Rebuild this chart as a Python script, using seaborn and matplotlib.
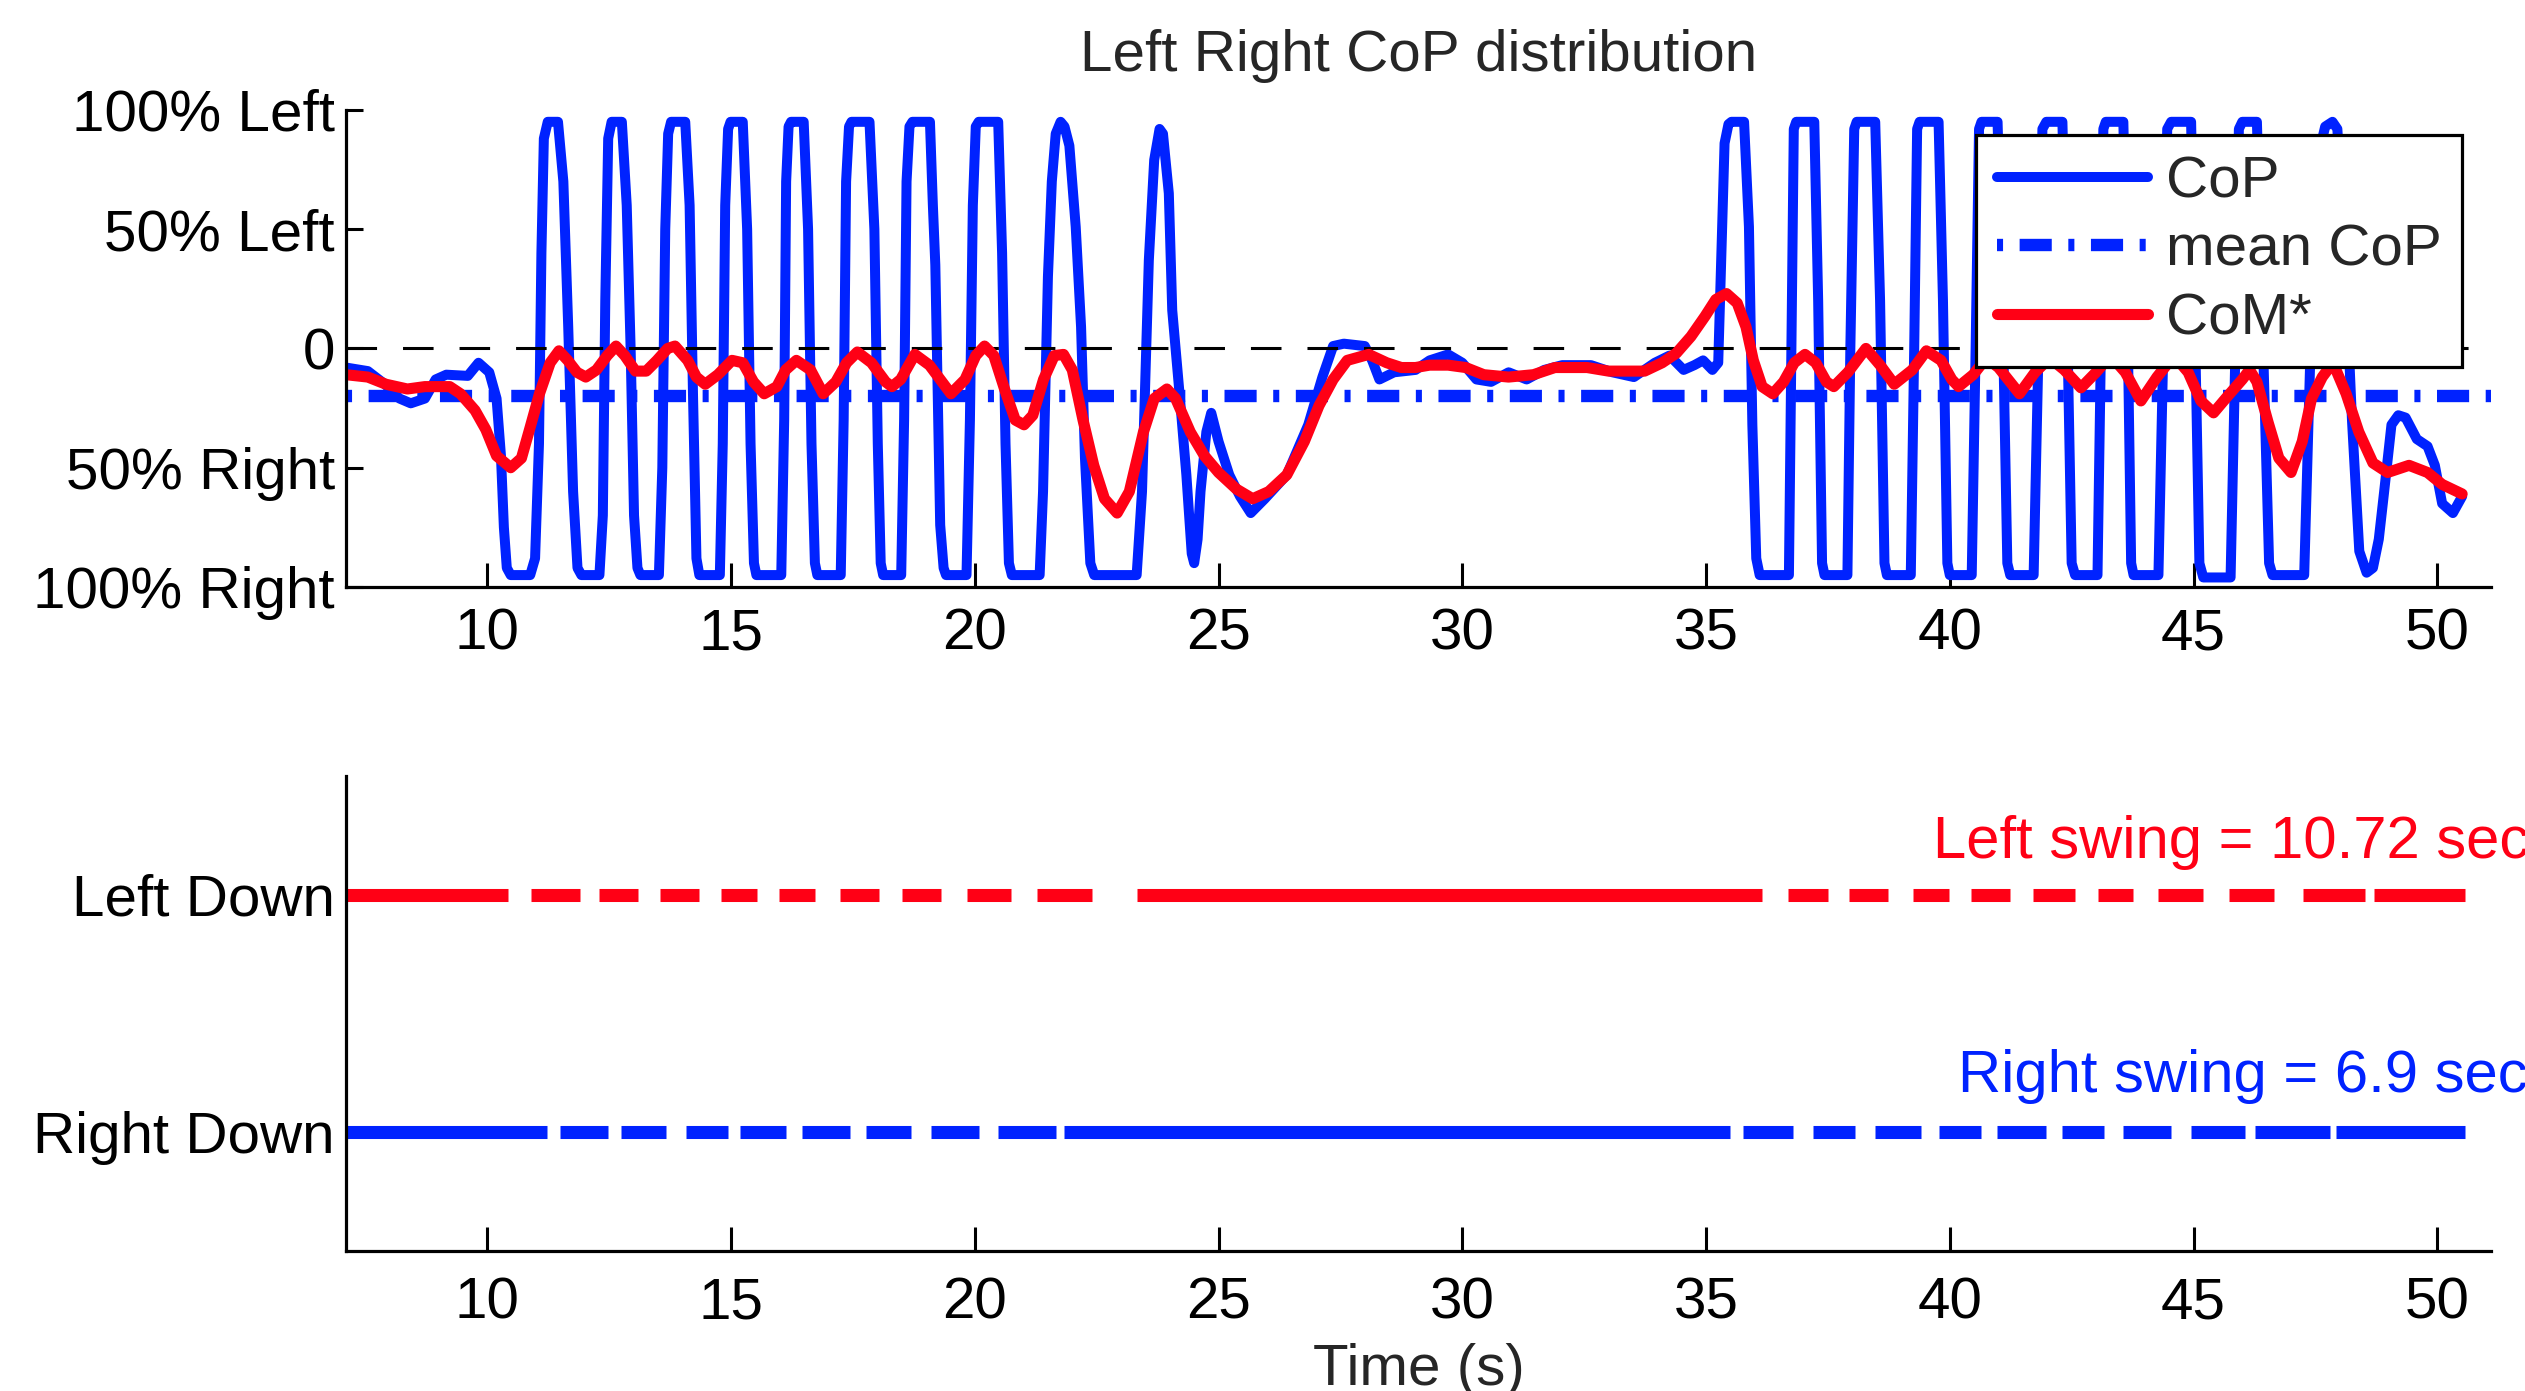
import pandas as pd
import seaborn as sns
import matplotlib.pyplot as plt

# CoP trace (time in s, % of weight: + left / - right)
cop_t = [7.10, 7.55, 7.90, 8.20, 8.43, 8.72, 8.94, 9.16, 9.60, 9.82, 10.04, 10.19, 10.28, 10.34, 10.40, 10.48,
         10.88, 10.98, 11.06, 11.11, 11.16, 11.24, 11.45, 11.56, 11.66, 11.76, 11.85, 11.93,
         12.30, 12.37, 12.42, 12.48, 12.55, 12.76, 12.86, 12.94, 13.01, 13.08, 13.14,
         13.52, 13.59, 13.65, 13.71, 13.77, 14.06, 14.15, 14.22, 14.29, 14.35,
         14.77, 14.83, 14.88, 14.94, 14.99, 15.24, 15.33, 15.40, 15.47, 15.52,
         16.03, 16.09, 16.13, 16.18, 16.23, 16.49, 16.58, 16.65, 16.72, 16.77,
         17.25, 17.31, 17.36, 17.42, 17.47, 17.84, 17.94, 18.01, 18.07, 18.12,
         18.49, 18.55, 18.60, 18.66, 18.72, 19.08, 19.14, 19.19, 19.29, 19.36, 19.41,
         19.83, 19.90, 19.96, 20.02, 20.08, 20.48, 20.56, 20.63, 20.70, 20.76,
         21.33, 21.40, 21.50, 21.58, 21.66, 21.76, 21.84, 21.94, 22.07, 22.18, 22.26, 22.37, 22.45,
         23.32, 23.43, 23.57, 23.68, 23.79, 23.86, 23.98, 24.05, 24.20, 24.34, 24.45, 24.50, 24.57,
         24.63, 24.75, 24.85, 25.00, 25.22, 25.44, 25.66, 25.95, 26.40, 26.84, 27.13, 27.35, 27.57,
         28.00, 28.15, 28.30, 28.60, 29.04, 29.33, 29.71, 30.00, 30.29, 30.59, 30.95, 31.32, 31.68,
         32.05, 32.64, 33.08, 33.52, 33.95, 34.25, 34.54, 34.76, 34.94, 35.13, 35.25,
         35.31, 35.38, 35.46, 35.52, 35.78, 35.88, 35.95, 36.03, 36.10,
         36.70, 36.75, 36.80, 36.85, 37.22, 37.30, 37.38, 37.43,
         37.90, 37.96, 38.04, 38.09, 38.47, 38.57, 38.66, 38.71,
         39.20, 39.27, 39.33, 39.38, 39.77, 39.86, 39.95, 40.00,
         40.45, 40.53, 40.60, 40.65, 40.98, 41.08, 41.18, 41.24,
         41.72, 41.82, 41.90, 41.98, 42.31, 42.40, 42.50, 42.57,
         43.03, 43.10, 43.15, 43.20, 43.56, 43.64, 43.72, 43.77,
         44.28, 44.38, 44.46, 44.54, 44.95, 45.02, 45.12, 45.20,
         45.76, 45.86, 45.93, 46.00, 46.30, 46.40, 46.55, 46.62,
         47.27, 47.40, 47.55, 47.70, 47.85, 47.95, 48.10, 48.25, 48.40, 48.55, 48.68,
         48.80, 48.91, 49.06, 49.20, 49.35, 49.58, 49.80, 49.95, 50.10, 50.32, 50.51]
cop_v = [-8, -9.5, -15, -21, -23, -21, -13, -11, -11.5, -6, -10, -21, -45, -75, -92, -95,
         -95, -88, -40, 40, 88, 95, 95, 70, 9, -60, -92, -95,
         -95, -70, 20, 88, 95, 95, 60, 0, -70, -92, -95,
         -95, -50, 50, 90, 95, 95, 60, -20, -88, -95,
         -95, -40, 60, 92, 95, 95, 50, -40, -90, -95,
         -95, -30, 70, 93, 95, 95, 50, -40, -90, -95,
         -95, -30, 70, 93, 95, 95, 50, -40, -90, -95,
         -95, -30, 70, 93, 95, 95, 60, 35, -74, -92, -95,
         -95, -30, 60, 93, 95, 95, 40, -40, -90, -95,
         -95, -60, 30, 70, 90, 95, 93, 85, 51, 9, -46, -90, -95,
         -95, -60, 37, 79, 92, 90, 65, 16, -19, -53, -86, -90, -80,
         -60, -35, -27, -39, -53, -62, -69, -63, -53, -32, -12, 1, 2,
         1, -5, -13, -10, -9, -5, -2.5, -6, -13, -14, -10, -13, -9,
         -7, -7, -10, -12, -6, -3, -9, -7, -5, -9, -6,
         37, 86, 94, 95, 95, 51, -32, -88, -95,
         -95, 0, 92, 95, 95, 20, -90, -95,
         -95, 0, 92, 95, 95, 20, -90, -95,
         -95, 0, 92, 95, 95, 20, -90, -95,
         -95, 0, 92, 95, 95, 20, -90, -95,
         -95, 0, 92, 95, 95, 20, -90, -95,
         -95, 0, 92, 95, 95, 20, -90, -95,
         -95, 0, 92, 95, 95, 20, -90, -96,
         -96, 0, 92, 95, 95, 20, -90, -95,
         -95, 0, 80, 93, 95, 92, 40, -30, -85, -94, -92,
         -80, -60, -32, -28, -29, -38, -41, -49, -65, -69, -62]

# CoM* trace
com_t = [7.10, 7.55, 7.92, 8.36, 8.72, 9.23, 9.45, 9.75, 9.97, 10.19, 10.48, 10.70, 10.88, 11.07, 11.29,
         11.47, 11.65, 11.84, 12.02, 12.24, 12.46, 12.64, 12.82, 13.04, 13.26, 13.48, 13.70, 13.85,
         14.11, 14.29, 14.47, 14.73, 15.02, 15.24, 15.46, 15.68, 15.94, 16.12, 16.34, 16.63, 16.89,
         17.15, 17.37, 17.59, 17.88, 18.17, 18.30, 18.48, 18.77, 19.07, 19.51, 19.80, 20.02, 20.20,
         20.39, 20.61, 20.83, 21.01, 21.19, 21.41, 21.63, 21.82, 22.00, 22.22, 22.44, 22.66, 22.92,
         23.17, 23.46, 23.68, 23.94, 24.12, 24.42, 24.71, 25.00, 25.37, 25.70, 26.03, 26.40, 26.76,
         27.06, 27.35, 27.64, 28.08, 28.45, 28.75, 29.04, 29.33, 29.71, 30.07, 30.44, 30.95, 31.46,
         31.90, 32.56, 33.00, 33.74, 34.10, 34.39, 34.69, 34.98, 35.20, 35.42, 35.64, 35.82, 35.97,
         36.15, 36.37, 36.59, 36.81, 37.03, 37.25, 37.47, 37.62, 37.91, 38.28, 38.57, 38.86, 39.23,
         39.52, 39.82, 40.04, 40.18, 40.48, 40.75, 41.00, 41.43, 41.75, 42.05, 42.35, 42.69, 43.00,
         43.30, 43.60, 43.92, 44.25, 44.60, 44.89, 45.15, 45.41, 45.70, 46.00, 46.15, 46.30, 46.53,
         46.75, 47.00, 47.23, 47.42, 47.64, 47.86, 48.13, 48.39, 48.68, 48.98, 49.42, 49.80, 50.10, 50.51]
com_v = [-11, -12, -15, -17, -16, -16, -19, -26, -34, -45, -50, -46, -33, -19, -6,
         -1, -5, -10, -12, -9, -3, 1, -3, -9.5, -9.5, -5, 0, 1,
         -5, -12, -15, -11, -5, -6, -14, -19, -16, -9, -5, -9, -19,
         -14, -6, -1.5, -6, -14, -16, -13, -2.5, -7, -19, -13, -3, 1,
         -3, -17, -30, -32, -28, -13, -3, -2.5, -9, -30, -49, -63, -69,
         -60, -35, -21, -17, -21, -35, -45, -52, -59, -63, -60, -53, -39,
         -24, -13, -5, -2.5, -6, -8, -8, -7, -7, -8, -11, -12, -11,
         -8, -8, -9.5, -9.5, -6, -2, 5, 13.5, 20.5, 23, 19, 9, -5,
         -16, -19, -14, -6, -2.5, -6, -14, -16, -10, 0, -7, -15, -9,
         -1, -5, -13, -16, -11, -4, -8, -19, -10, -4, -9, -16.5, -10,
         -3, -10, -22, -12, -3, -10, -22, -27, -20, -13, -9, -14, -31,
         -46, -52, -39, -21, -12, -6, -19, -35, -48, -52, -49, -52, -57, -61]

mean_cop = -20
t_span = [7.1, 51.1]

# foot contact intervals (s)
left_down = [(7.1, 10.43), (10.9, 11.9), (12.3, 13.1), (13.55, 14.35), (14.8, 15.54), (15.99, 16.73),
             (17.24, 18.04), (18.5, 19.3), (19.83, 20.75), (21.28, 22.41), (23.33, 36.15), (36.69, 37.51),
             (37.94, 38.74), (39.25, 39.99), (40.44, 41.24), (41.71, 42.57), (43.03, 43.76), (44.28, 45.2),
             (45.73, 46.66), (47.25, 48.52), (48.7, 50.56)]
right_down = [(7.1, 11.23), (11.5, 12.48), (12.75, 13.67), (14.08, 14.94), (15.19, 16.13), (16.46, 17.45),
              (17.77, 18.7), (19.11, 20.09), (20.48, 21.67), (21.82, 35.5), (35.76, 36.79), (37.2, 38.06),
              (38.47, 39.4), (39.78, 40.65), (40.97, 41.98), (42.31, 43.17), (43.56, 44.54), (44.95, 46.06),
              (46.27, 47.79), (47.93, 50.56)]

x_ticks = [10, 15, 20, 25, 30, 35, 40, 45, 50]
cop_ticks = [-100, -50, 0, 50, 100]
cop_ticklabels = ["100% Right", "50% Right", "0", "50% Left", "100% Left"]
gait_ticklabels = ["Right Down", "Left Down"]
left_swing = 10.72
right_swing = 6.9

BLUE = "#0022ff"
RED = "#ff0015"
FS = 42

sns.set_style("ticks")
plt.rcParams["font.family"] = ["Liberation Sans", "DejaVu Sans"]
plt.rcParams["axes.edgecolor"] = "black"
plt.rcParams["axes.linewidth"] = 2.3
plt.rcParams["xtick.color"] = "black"
plt.rcParams["ytick.color"] = "black"

fig = plt.figure(figsize=(25.25, 13.91), dpi=100)
ax1 = fig.add_axes([0.137, 0.578, 0.8495, 0.343])
ax2 = fig.add_axes([0.137, 0.1006, 0.8495, 0.3415])

# top: CoP distribution
sns.lineplot(x=cop_t, y=cop_v, ax=ax1, color=BLUE, lw=7.2, estimator=None, sort=False)
sns.lineplot(x=t_span, y=[mean_cop] * 2, ax=ax1, color=BLUE, lw=8.9, estimator=None)
ax1.lines[1].set_dashes((0.49, 1.34, 2.6, 1.34))
ax1.lines[1].set_dash_capstyle("butt")
ax1.axhline(0, color="black", lw=2.2, dashes=(10, 8.5))
sns.lineplot(x=com_t, y=com_v, ax=ax1, color=RED, lw=8.0, estimator=None, sort=False)

ax1.set_xlim(t_span)
ax1.set_ylim(-100, 100)
ax1.set_xticks(x_ticks)
ax1.set_yticks(cop_ticks)
ax1.set_yticklabels(cop_ticklabels)
ax1.set_xlabel("")
ax1.set_ylabel("")
ax1.set_title("Left Right CoP distribution", fontsize=FS, pad=28)

leg = ax1.legend(handles=[ax1.lines[0], ax1.lines[1], ax1.lines[3]],
                 labels=["CoP", "mean CoP", "CoM*"],
                 loc="upper left", bbox_to_anchor=(0.760, 0.948), borderaxespad=0,
                 fontsize=FS, handlelength=2.6, handletextpad=0.3, borderpad=0.35,
                 labelspacing=0.25, fancybox=False, framealpha=1, edgecolor="black")
leg.get_frame().set_linewidth(2.3)

# bottom: foot contact
rows = []
for i, (a, b) in enumerate(left_down):
    rows += [(a, 2, i), (b, 2, i)]
left_df = pd.DataFrame(rows, columns=["t", "y", "seg"])
rows = []
for i, (a, b) in enumerate(right_down):
    rows += [(a, 1, i), (b, 1, i)]
right_df = pd.DataFrame(rows, columns=["t", "y", "seg"])

sns.lineplot(data=left_df, x="t", y="y", units="seg", estimator=None, ax=ax2,
             color=RED, lw=9.4, solid_capstyle="butt")
sns.lineplot(data=right_df, x="t", y="y", units="seg", estimator=None, ax=ax2,
             color=BLUE, lw=9.4, solid_capstyle="butt")

ax2.text(39.66, 2.155, f"Left swing = {left_swing} sec", color=RED, fontsize=43, va="baseline")
ax2.text(40.17, 1.17, f"Right swing = {right_swing} sec.", color=BLUE, fontsize=43, va="baseline")

ax2.set_xlim(t_span)
ax2.set_ylim(0.5, 2.5)
ax2.set_xticks(x_ticks)
ax2.set_yticks([1, 2])
ax2.set_yticklabels(gait_ticklabels)
ax2.set_ylabel("")
ax2.set_xlabel("Time (s)", fontsize=FS, labelpad=9)

for ax in (ax1, ax2):
    sns.despine(ax=ax)
    ax.tick_params(axis="both", direction="in", labelsize=FS, width=2.2, color="black")
    ax.tick_params(axis="y", length=12.3, pad=8)
ax1.tick_params(axis="x", length=17, pad=15)
ax2.tick_params(axis="x", length=17, pad=18)

fig.savefig("out.png", dpi=100)
